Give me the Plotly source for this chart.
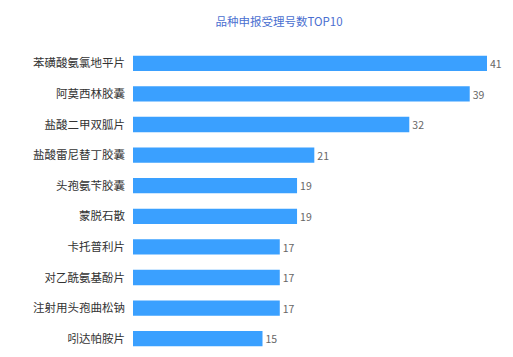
import plotly.graph_objects as go

categories = ["苯磺酸氨氯地平片", "阿莫西林胶囊", "盐酸二甲双胍片", "盐酸雷尼替丁胶囊", "头孢氨苄胶囊",
              "蒙脱石散", "卡托普利片", "对乙酰氨基酚片", "注射用头孢曲松钠", "吲达帕胺片"]
values = [41, 39, 32, 21, 19, 19, 17, 17, 17, 15]

font_family = "Noto Sans CJK SC, Noto Sans, sans-serif"

fig = go.Figure(go.Bar(
    x=values,
    y=categories,
    orientation="h",
    marker=dict(color="#3aa0ff", line=dict(width=0)),
    width=0.5,
    text=values,
    textposition="outside",
    textfont=dict(color="#666666", size=11, family=font_family),
    cliponaxis=False,
))

fig.update_layout(
    width=513, height=357,
    margin=dict(l=133, r=26, t=48, b=3),
    paper_bgcolor="white", plot_bgcolor="white",
    showlegend=False,
    title=dict(text="品种申报受理号数TOP10", x=279/513, xanchor="center", y=1-22/357, yanchor="middle",
               font=dict(size=11.5, color="#4a6fd0", family=font_family)),
    xaxis=dict(range=[0, 41], visible=False, showgrid=False, zeroline=False),
    yaxis=dict(autorange="reversed", showgrid=False, zeroline=False, showline=False, ticks="",
               ticklabelstandoff=7,
               tickfont=dict(size=11.5, color="#333333", family=font_family)),
    font=dict(family=font_family),
)

fig.write_html("out.html")
